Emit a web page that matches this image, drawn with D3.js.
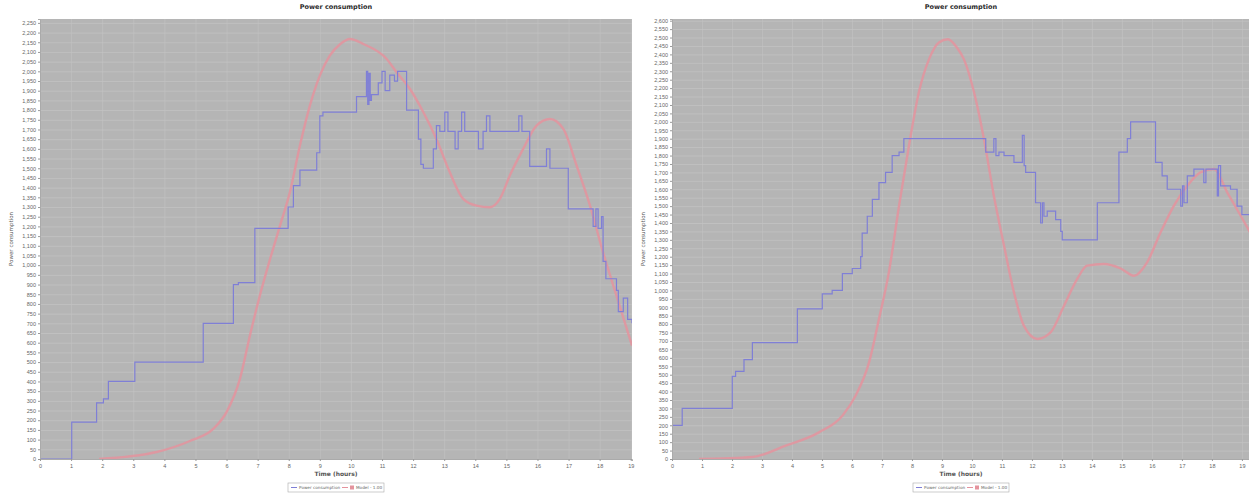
<!DOCTYPE html>
<html>
<head>
<meta charset="utf-8">
<script src="https://cdn.jsdelivr.net/npm/d3@7"></script>
<style>
  body { margin: 0; background: #fff; }
  svg { display: block; font-family: "DejaVu Sans", sans-serif; }
</style>
</head>
<body>
<svg id="chart" width="1249" height="496"></svg>
<script>
// hours, watts
const left_measured = [
  [0, 0], [1.02, 190], [1.82, 290], [2.04, 310], [2.2, 400], [3.05, 500], [5.25, 700],
  [6.22, 900], [6.38, 910], [6.91, 1190], [7.98, 1300], [8.15, 1410], [8.36, 1490],
  [8.9, 1580], [9.0, 1770], [9.1, 1790], [10.18, 1870], [10.5, 2000], [10.54, 1830],
  [10.58, 1990], [10.62, 1850], [10.66, 1880], [10.88, 1940], [11.0, 2000], [11.1, 1900],
  [11.25, 1980], [11.4, 1950], [11.5, 2000], [11.79, 1800], [12.17, 1650], [12.25, 1520],
  [12.33, 1500], [12.65, 1600], [12.75, 1720], [12.86, 1690], [13.02, 1790], [13.12, 1690],
  [13.35, 1600], [13.45, 1690], [13.56, 1790], [13.66, 1690], [14.1, 1600], [14.25, 1690],
  [14.36, 1770], [14.47, 1690], [15.4, 1770], [15.5, 1690], [15.75, 1510], [16.29, 1600],
  [16.4, 1500], [16.99, 1290], [17.79, 1200], [17.88, 1290], [17.95, 1190], [18.06, 1250],
  [18.11, 1020], [18.2, 930], [18.54, 870], [18.6, 760], [18.76, 830], [18.9, 720], [19.04, 700]
];
const left_model = [
  [1.9, 0], [3.75, 36], [4.82, 93], [5.57, 155], [6.0, 242], [6.43, 413], [6.75, 636],
  [7.07, 843], [7.4, 1032], [7.72, 1204], [8.04, 1378], [8.36, 1617], [8.68, 1823],
  [9.0, 1978], [9.32, 2081], [9.65, 2140], [9.97, 2167], [10.4, 2141], [11.15, 2064],
  [11.47, 1995], [11.9, 1909], [12.33, 1789], [12.75, 1651], [13.18, 1479], [13.61, 1342],
  [14.04, 1307], [14.47, 1299], [14.79, 1342], [15.11, 1462], [15.54, 1600], [15.97, 1720],
  [16.4, 1754], [16.83, 1703], [17.26, 1513], [17.69, 1307], [18.11, 1066], [18.54, 843],
  [19.04, 585]
];
const right_measured = [
  [0, 200], [0.34, 300], [2.01, 490], [2.12, 520], [2.4, 590], [2.68, 690], [4.18, 890],
  [5.01, 980], [5.34, 1000], [5.68, 1100], [6.01, 1130], [6.29, 1200], [6.34, 1340],
  [6.51, 1440], [6.68, 1540], [6.9, 1640], [7.12, 1700], [7.34, 1800], [7.57, 1820],
  [7.73, 1900], [10.46, 1820], [10.73, 1900], [10.8, 1800], [10.9, 1820], [11.07, 1800],
  [11.4, 1760], [11.68, 1920], [11.74, 1740], [11.79, 1700], [12.12, 1520], [12.29, 1400],
  [12.35, 1520], [12.4, 1440], [12.51, 1470], [12.79, 1420], [12.96, 1350], [13.01, 1300],
  [14.18, 1520], [14.9, 1820], [15.18, 1900], [15.29, 2000], [16.12, 1760], [16.34, 1680],
  [16.51, 1600], [16.96, 1500], [17.02, 1620], [17.07, 1520], [17.18, 1680], [17.4, 1720],
  [17.73, 1640], [17.8, 1720], [18.18, 1560], [18.22, 1740], [18.29, 1620], [18.62, 1600],
  [18.84, 1500], [19.0, 1450], [19.27, 1400]
];
const right_model = [
  [0.9, 0], [2.68, 12], [3.79, 79], [4.9, 158], [5.68, 257], [6.12, 375], [6.57, 573],
  [6.9, 830], [7.23, 1107], [7.57, 1502], [7.9, 1858], [8.23, 2175], [8.57, 2372],
  [8.9, 2471], [9.2, 2490], [9.5, 2440], [9.73, 2372], [10.07, 2175], [10.4, 1898],
  [10.73, 1562], [11.07, 1265], [11.4, 989], [11.73, 791], [12.18, 712], [12.62, 751],
  [13.07, 909], [13.51, 1068], [13.84, 1147], [14.4, 1157], [14.96, 1130], [15.4, 1087],
  [15.84, 1167], [16.29, 1345], [16.73, 1502], [17.18, 1621], [17.62, 1700], [18.07, 1720],
  [18.51, 1582], [18.96, 1443], [19.27, 1345]
];
const hour_ticks = d3.range(0, 20);
const left_watt_ticks = d3.range(0, 2251, 50);
const right_watt_ticks = d3.range(0, 2601, 50);

const TITLE = "Power consumption";
const X_LABEL = "Time (hours)";
const Y_LABEL = "Power consumption";
const LEGEND_ITEMS = ["Power consumption", "Model - 1.00"];

const BLUE = "#7f7fd6";
const RED = "#e4939d";

const svg = d3.select("#chart");
const fmt = d3.format(",");

const draw_chart = function (opts) {
  let { left, right, top, bottom, x_max, y_max, y_ticks, measured, model } = opts;
  let x = d3.scaleLinear().domain([0, x_max]).range([left, right]);
  let y = d3.scaleLinear().domain([0, y_max]).range([bottom, top]);
  let g = svg.append("g");
  let mid = (left + right) / 2;

  g.append("rect")
    .attr("x", left).attr("y", top)
    .attr("width", right - left).attr("height", bottom - top)
    .attr("fill", "#b5b5b5");

  // grid
  g.append("g").selectAll("line").data(y_ticks).join("line")
    .attr("x1", left).attr("x2", right)
    .attr("y1", d => y(d) + 0.5).attr("y2", d => y(d) + 0.5)
    .attr("stroke", "#c4c4c4").attr("stroke-width", 0.7);
  g.append("g").selectAll("line").data(hour_ticks).join("line")
    .attr("y1", top).attr("y2", bottom)
    .attr("x1", d => x(d) + 0.5).attr("x2", d => x(d) + 0.5)
    .attr("stroke", "#c2c2c2").attr("stroke-width", 0.6);

  let clip_id = "clip" + left;
  g.append("clipPath").attr("id", clip_id)
    .append("rect").attr("x", left).attr("y", top)
    .attr("width", right - left).attr("height", bottom - top);
  let lines = g.append("g").attr("clip-path", `url(#${clip_id})`);

  lines.append("path")
    .datum(model)
    .attr("fill", "none")
    .attr("stroke", RED)
    .attr("stroke-opacity", 0.85)
    .attr("stroke-width", 2.4)
    .attr("d", d3.line().x(d => x(d[0])).y(d => y(d[1])).curve(d3.curveMonotoneX));

  lines.append("path")
    .datum(measured)
    .attr("fill", "none")
    .attr("stroke", BLUE)
    .attr("stroke-width", 1.2)
    .attr("d", d3.line().x(d => x(d[0])).y(d => y(d[1])).curve(d3.curveStepAfter));

  // axes
  let y_axis = g.append("g")
    .attr("transform", `translate(${left},0)`)
    .call(d3.axisLeft(y).tickValues(y_ticks).tickFormat(fmt).tickSize(2).tickPadding(2));
  let x_axis = g.append("g")
    .attr("transform", `translate(0,${bottom})`)
    .call(d3.axisBottom(x).tickValues(hour_ticks).tickFormat(d3.format("d")).tickSize(2).tickPadding(3));
  [y_axis, x_axis].forEach(a => {
    a.selectAll("text").attr("font-size", 5.5).attr("fill", "#666");
    a.selectAll("line").attr("stroke", "#999");
    a.select(".domain").attr("stroke", "#aaa");
  });

  g.append("text")
    .attr("x", mid).attr("y", 9)
    .attr("text-anchor", "middle")
    .attr("font-size", 6.5).attr("font-weight", "bold").attr("fill", "#2a2a2a")
    .text(TITLE);

  g.append("text")
    .attr("transform", `translate(${left - 27},${(top + bottom) / 2}) rotate(-90)`)
    .attr("text-anchor", "middle")
    .attr("font-size", 5.5).attr("fill", "#555")
    .text(Y_LABEL);

  g.append("text")
    .attr("x", mid).attr("y", bottom + 17)
    .attr("text-anchor", "middle")
    .attr("font-size", 6).attr("font-weight", "bold").attr("fill", "#555")
    .text(X_LABEL);

  // legend
  let lg = g.append("g");
  let lw = 96, lx = mid - lw / 2, ly = bottom + 24;
  lg.append("rect")
    .attr("x", lx).attr("y", ly)
    .attr("width", lw).attr("height", 9)
    .attr("fill", "#fff").attr("stroke", "#aaa").attr("stroke-width", 0.6);
  lg.append("line")
    .attr("x1", lx + 3).attr("x2", lx + 9)
    .attr("y1", ly + 4.5).attr("y2", ly + 4.5)
    .attr("stroke", BLUE).attr("stroke-width", 1);
  lg.append("text")
    .attr("x", lx + 11).attr("y", ly + 6.3)
    .attr("font-size", 4.2).attr("fill", "#666")
    .text(LEGEND_ITEMS[0]);
  lg.append("line")
    .attr("x1", lx + 54).attr("x2", lx + 60)
    .attr("y1", ly + 4.5).attr("y2", ly + 4.5)
    .attr("stroke", RED).attr("stroke-width", 1);
  lg.append("rect")
    .attr("x", lx + 62).attr("y", ly + 2.5)
    .attr("width", 4).attr("height", 4)
    .attr("fill", RED);
  lg.append("text")
    .attr("x", lx + 68).attr("y", ly + 6.3)
    .attr("font-size", 4.2).attr("fill", "#666")
    .text(LEGEND_ITEMS[1]);
}

draw_chart({
  left: 40, right: 632, top: 19, bottom: 459,
  x_max: 19.04, y_max: 2270, y_ticks: left_watt_ticks,
  measured: left_measured, model: left_model
});
draw_chart({
  left: 672, right: 1250, top: 19, bottom: 459,
  x_max: 19.27, y_max: 2610, y_ticks: right_watt_ticks,
  measured: right_measured, model: right_model
});
</script>
</body>
</html>
